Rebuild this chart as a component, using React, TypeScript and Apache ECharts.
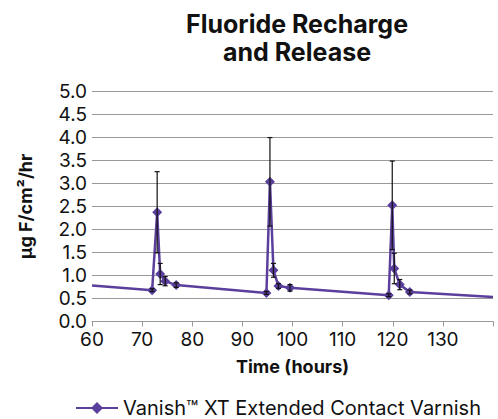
import React, { useEffect, useRef } from "react";
import * as echarts from "echarts";

const timeHours = [60, 72, 73, 73.6, 74.6, 76.8, 94.8, 95.5, 96.2, 97.2, 99.5, 119.2, 119.9, 120.3, 121.4, 123.4, 140];
const releaseValues = [0.78, 0.68, 2.37, 1.03, 0.875, 0.79, 0.62, 3.03, 1.11, 0.77, 0.73, 0.57, 2.52, 1.15, 0.8, 0.64, 0.53];
const errorValues = [null, 0.03, 0.88, 0.23, 0.1, 0.05, 0.03, 0.96, 0.15, 0.05, 0.07, 0.03, 0.96, 0.33, 0.11, 0.04, null];
const xTicks = [60, 70, 80, 90, 100, 110, 120, 130];
const seriesName = "Vanish™ XT Extended Contact Varnish";

const FONT = "Inter";
const PURPLE = "#5b3f9c";

export default function App() {
  const ref = useRef<HTMLDivElement>(null);
  useEffect(() => {
    if (!ref.current) return;
    const chart = echarts.init(ref.current, null, { renderer: "svg" });
    const lineData = timeHours.map((t, i) => {
      const measured = errorValues[i] !== null;
      return measured ? [t, releaseValues[i]] : { value: [t, releaseValues[i]], symbol: "none" };
    });
    const errData = timeHours
      .map((t, i) => (errorValues[i] === null ? null : [t, releaseValues[i] - (errorValues[i] as number), releaseValues[i] + (errorValues[i] as number)]))
      .filter((d) => d !== null);
    chart.setOption({
      animation: false,
      textStyle: { fontFamily: FONT, color: "#111" },
      title: {
        text: "Fluoride Recharge\nand Release",
        left: 292,
        top: 5,
        textAlign: "center",
        textStyle: { fontFamily: FONT, fontSize: 25, fontWeight: "bold", lineHeight: 28, color: "#111" },
      },
      legend: {
        left: 70,
        top: 393,
        itemWidth: 42,
        itemHeight: 15,
        itemGap: 10,
        textStyle: { fontFamily: FONT, fontSize: 20, color: "#111" },
        data: [seriesName],
      },
      grid: { left: 92, right: 5, top: 91, bottom: 97.5 },
      xAxis: {
        type: "value",
        min: 60,
        max: 140,
        interval: 10,
        name: "Time (hours)",
        nameLocation: "middle",
        nameGap: 36,
        nameTextStyle: { fontFamily: FONT, fontSize: 18, fontWeight: "bold", color: "#111" },
        axisLine: { show: true, lineStyle: { color: "#999", width: 1 } },
        axisTick: { show: true, length: 5, lineStyle: { color: "#999" } },
        splitLine: { show: false },
        axisLabel: {
          fontFamily: FONT,
          fontSize: 19,
          color: "#111",
          margin: 8,
          formatter: (v: number) => (xTicks.includes(v) ? String(v) : ""),
        },
      },
      yAxis: {
        type: "value",
        min: 0,
        max: 5,
        interval: 0.5,
        name: "µg F/cm²/hr",
        nameLocation: "middle",
        nameRotate: 90,
        nameGap: 58,
        nameTextStyle: { fontFamily: FONT, fontSize: 18, fontWeight: "bold", color: "#111" },
        axisLine: { show: false },
        axisTick: { show: false },
        splitLine: { lineStyle: { color: "#999", width: 1 } },
        axisLabel: {
          fontFamily: FONT,
          fontSize: 19,
          color: "#111",
          margin: 5,
          formatter: (v: number) => v.toFixed(1),
        },
      },
      series: [
        {
          name: seriesName,
          type: "line",
          data: lineData,
          symbol: "diamond",
          symbolSize: 10,
          showAllSymbol: true,
          lineStyle: { color: PURPLE, width: 2.5 },
          itemStyle: { color: PURPLE },
          clip: true,
          z: 2,
        },
        {
          name: "error",
          type: "custom",
          data: errData,
          z: 3,
          renderItem: (params: any, api: any) => {
            const x = api.value(0);
            const lo = api.coord([x, api.value(1)]);
            const hi = api.coord([x, api.value(2)]);
            const cap = 2.5;
            const style = { stroke: "#111", lineWidth: 1.2 };
            return {
              type: "group",
              children: [
                { type: "line", shape: { x1: lo[0], y1: lo[1], x2: hi[0], y2: hi[1] }, style },
                { type: "line", shape: { x1: lo[0] - cap, y1: lo[1], x2: lo[0] + cap, y2: lo[1] }, style },
                { type: "line", shape: { x1: hi[0] - cap, y1: hi[1], x2: hi[0] + cap, y2: hi[1] }, style },
              ],
            };
          },
        },
      ],
    });
    return () => chart.dispose();
  }, []);
  return <div ref={ref} style={{ width: 498, height: 419, position: "absolute", left: 0, top: 0 }} />;
}
